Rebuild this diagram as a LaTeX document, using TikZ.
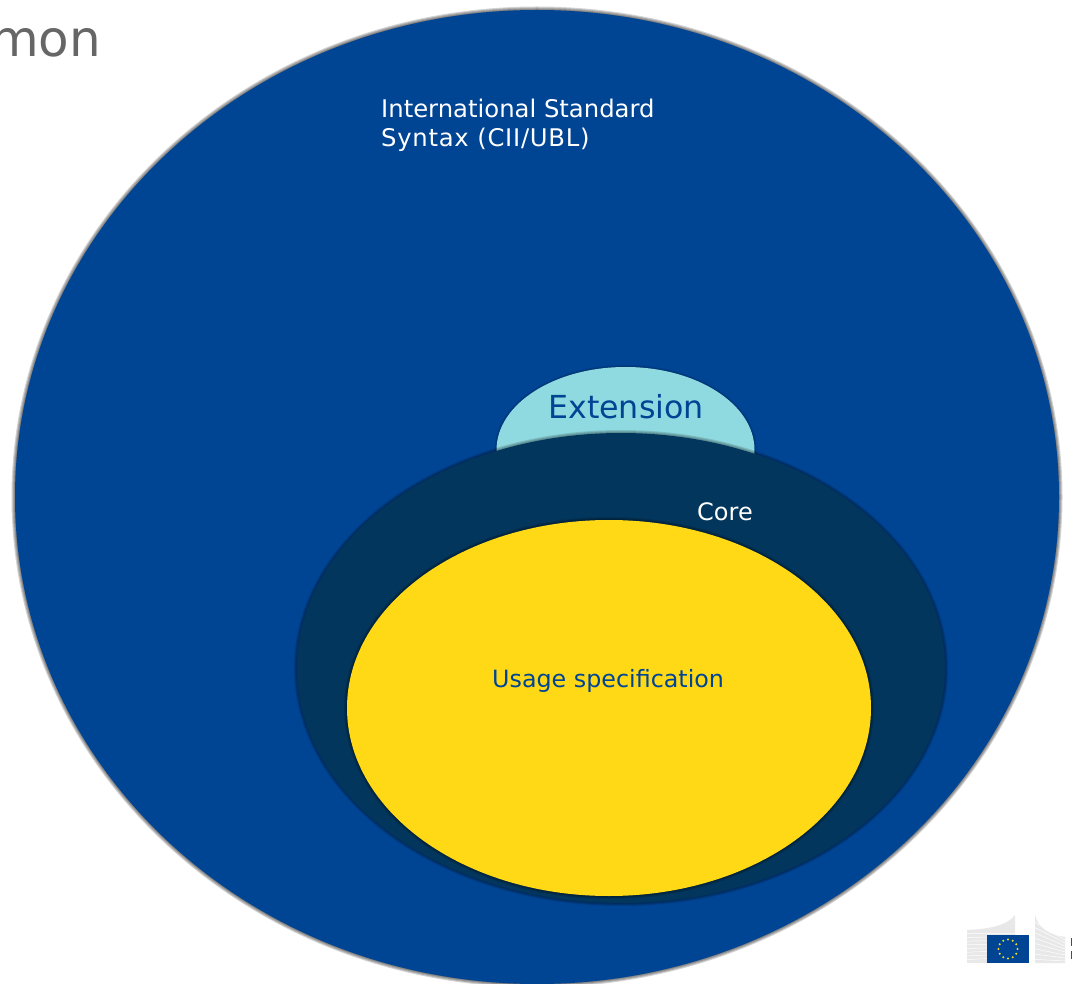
\documentclass[tikz,border=0pt]{standalone}
\usepackage{fontspec}
\setmainfont{DejaVu Sans}
\usetikzlibrary{shapes.geometric}
\definecolor{EUblue}{RGB}{0,68,148}
\definecolor{COREblue}{RGB}{3,54,92}
\definecolor{USEyellow}{RGB}{255,217,22}
\definecolor{EXTcyan}{RGB}{143,218,224}
\definecolor{HEADgrey}{RGB}{102,102,102}
\definecolor{BLDgrey}{RGB}{232,232,232}
\definecolor{STARyellow}{RGB}{245,220,40}
\tikzset{
  blob/.style={ellipse, inner sep=0pt, outer sep=0pt},
  halo/.style={blob, fill=black, opacity=0.13},
  label/.style={anchor=base west, inner sep=0pt},
}
\begin{document}
\begin{tikzpicture}[x=1pt, y=-1pt]
      \useasboundingbox (0, 0) rectangle (1072, 984);
      \clip (0, 0) rectangle (1072, 984);
      \fill[white] (0, 0) rectangle (1072, 984);
      % nested ellipses, each with a soft rim
      \foreach \d in {7,5,3,1} {
        \node[halo, opacity=0.17, minimum width=1044pt+\d pt, minimum height=974pt+\d pt] (rim\d) at (537, 497) {};
      }
      \node[blob, fill=EUblue, minimum width=1044pt, minimum height=974pt] (syntax) at (537, 497) {};
      \foreach \d in {4,2} {
        \node[halo, opacity=0.1, minimum width=258pt+\d pt, minimum height=166pt+\d pt] (extrim\d) at (625.5, 450) {};
      }
      \node[blob, fill=EXTcyan, minimum width=258pt, minimum height=166pt] (extension) at (625.5, 450) {};
      \foreach \d in {6,4,2} {
        \node[halo, minimum width=648pt+\d pt, minimum height=470pt+\d pt] (corerim\d) at (621, 668) {};
      }
      \node[blob, fill=COREblue, minimum width=648pt, minimum height=470pt] (core) at (621, 668) {};
      \foreach \d in {6,4,2} {
        \node[halo, minimum width=524pt+\d pt, minimum height=376pt+\d pt] (userim\d) at (609, 708) {};
      }
      \node[blob, fill=USEyellow, minimum width=524pt, minimum height=376pt] (usage) at (609, 708) {};
      % texts
      \node[label, text=HEADgrey, font=\fontsize{50}{50}\selectfont] (heading) at (-10, 57) {mon};
      \node[label, text=white, font=\fontsize{24.3}{24.3}\selectfont] (syntaxa) at (381, 118) {International Standard};
      \node[label, text=white, font=\fontsize{24.3}{24.3}\selectfont\addfontfeature{LetterSpace=3}] (syntaxb) at (381, 147) {Syntax (CII/UBL)};
      \node[label, text=EUblue, font=\fontsize{31.7}{31.7}\selectfont] (exttext) at (548, 419) {Extension};
      \node[label, text=white, font=\fontsize{24}{24}\selectfont] (coretext) at (697, 520) {Core};
      \node[label, text=EUblue, font=\fontsize{23.8}{23.8}\selectfont] (usetext) at (492, 687) {Usage specification};
      % logo
      \fill[BLDgrey] (967, 930) .. controls (990, 929) and (1008, 925) .. (1015, 915) -- (1015, 963) -- (967, 963) -- cycle;
      \fill[BLDgrey] (1035, 915) .. controls (1038, 928) and (1050, 935) .. (1065, 937) -- (1065, 963) -- (1035, 963) -- cycle;
      \foreach \i in {1,...,8} {
        \draw[white, line width=0.5pt] (967, 930+\i*3.7) -- (1015, 930+\i*3.7-\i*0.3);
        \draw[white, line width=0.5pt] (1035, 917+\i*5.3) -- (1065, 937+\i*3);
      }
      \fill[EUblue] (987, 934.5) rectangle (1029, 963);
      \foreach \a in {0,30,...,330}
        \fill[STARyellow] (1008, 949) ++(\a:9.5) circle (1.2pt);
      \fill[black!70] (1070.5, 938) rectangle (1072, 946);
      \fill[black!70] (1070.5, 951) rectangle (1072, 959);
\end{tikzpicture}
\end{document}
